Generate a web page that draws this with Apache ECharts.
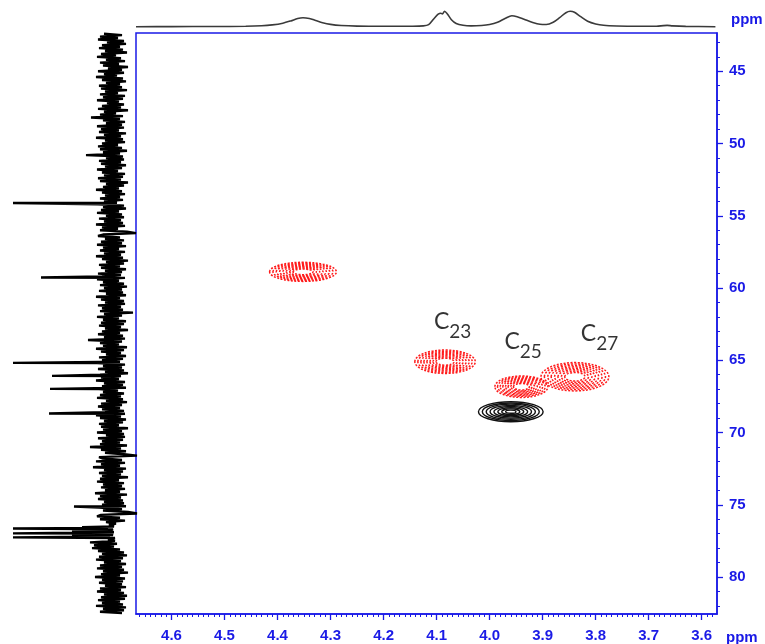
<!DOCTYPE html>
<html><head><meta charset="utf-8">
<script src="https://cdn.jsdelivr.net/npm/echarts@6/dist/echarts.min.js"></script>
<style>html,body{margin:0;padding:0;background:#fff}#c{width:765px;height:644px}</style>
</head><body><div id="c"></div><script>
// ---- axis ranges / tick labels ----
const X_MIN = 3.571, X_MAX = 4.667;   // 1H ppm (reversed)
const Y_MIN = 42.35, Y_MAX = 82.56;   // 13C ppm (reversed)
const X_LABELS = [3.6, 3.7, 3.8, 3.9, 4.0, 4.1, 4.2, 4.3, 4.4, 4.5, 4.6];
const Y_LABELS = [45, 50, 55, 60, 65, 70, 75, 80];

// ---- 1H projection (top trace) ----
const TOP_PPM = [4.667,4.60,4.52,4.46,4.43,4.41,4.39,4.375,4.362,4.352,4.34,4.328,4.315,4.30,4.28,4.25,4.20,4.15,4.125,4.115,4.105,4.097,4.092,4.089,4.085,4.08,4.072,4.063,4.05,4.035,4.015,4.0,3.985,3.97,3.958,3.948,3.935,3.92,3.905,3.893,3.88,3.868,3.856,3.848,3.84,3.828,3.815,3.80,3.785,3.76,3.72,3.685,3.672,3.665,3.655,3.63,3.574];
const TOP_INT = [0,0.1,0.2,0.4,0.9,1.8,3.5,5.8,8.2,9,8.2,6.2,4,2.3,1.2,0.6,0.4,0.5,0.8,2,8,12.5,13.5,12.8,15.4,13,7,3.2,1.4,0.8,1.2,2.2,4.5,8.5,11,10,7.5,4.5,2.4,2.2,4.5,9,14,15.4,14.5,10,5.5,2.8,1.4,0.7,0.4,0.5,1.1,1.3,0.8,0.3,0];

// ---- 13C projection (left trace): noise read every 0.1 ppm from 42.4 ----
const NOISE_START = 42.4, NOISE_STEP = 0.1;
const NOISE = [
8,-10,12,-6,14,-12,5,-14,10,-8,
13,-11,7,-15,11,-4,15,-9,6,-13,
12,-7,9,-16,4,-10,14,-12,8,-5,
16,-11,10,-14,6,-8,13,-10,11,-15,
7,-6,12,-13,9,-11,15,-7,5,-12,
10,-9,14,-16,8,-4,12,-11,21,-8,
9,-13,6,-10,15,-12,11,-7,13,-14,
8,-9,16,-11,7,-13,10,-6,14,-10,
12,-15,9,-8,26,-11,6,-12,13,-9,
11,-14,7,-10,15,-6,10,-13,8,-11,
14,-9,12,-16,6,-12,9,-7,16,-10,
10,-13,7,-8,12,-11,8,-5,14,-12,
9,-14,11,-7,15,-10,6,-12,13,-9,
8,-11,16,-13,10,-6,12,-15,-24,9,
14,-8,7,-12,11,-10,15,-14,9,-7,
12,-13,8,-9,16,-11,10,-16,6,-12,
13,-8,11,-14,7,-10,14,-9,10,-13,
15,-7,9,-12,12,-15,8,-10,13,-11,
6,-14,16,-8,11,-12,7,-13,14,-9,
10,-11,12,-21,8,-10,15,-7,9,-14,
11,-12,13,-9,7,-16,10,-8,14,-11,
8,-13,24,-10,12,-7,9,-15,16,-12,
11,-9,6,-14,13,-11,10,-8,15,-13,
9,-10,14,-12,7,-16,12,-9,11,-7,
16,-13,8,-11,10,-14,13,-6,9,-12,
12,-9,15,-11,6,-15,11,-10,14,-8,
10,-12,7,-13,16,-9,12,-14,8,-11,
13,-7,11,-16,9,-10,15,-12,6,-13,
14,-11,10,-8,12,-15,22,-9,11,-14,
7,-12,-25,13,9,-10,16,-13,11,-8,
19,-14,8,-11,13,-9,10,-16,12,-7,
15,-12,9,-10,11,-13,7,-8,17,-15,
12,-9,14,-11,8,-12,10,-14,13,-10,
9,-16,-25,11,15,-8,12,-13,6,-4,
3,-2,4,-1,2,-2,3,-1,2,-3,
4,-3,22,-5,18,-2,20,-8,14,-12,
10,-15,13,-11,16,-9,8,-14,12,-10,
15,-12,9,-16,11,-8,17,-13,10,-11,
13,-10,7,-14,12,-9,15,-12,8,-15,
11,-13,14,-8,10,-11,16,-14,9,-12,
12,-10];
const SPIKE_PPM = [54.12, 59.27, 65.18, 66.08, 66.98, 68.68, 75.12, 76.55, 76.64, 76.81, 76.98, 77.12, 77.26];
const SPIKE_INT = [99, 71, 99, 60, 62, 63, 38, 30, 99, 40, 99, 40, 99];

// ---- HSQC cross peaks (1H ppm, 13C ppm, half widths) ----
const RED_H  = [4.352, 4.084, 3.940, 3.839];
const RED_C  = [58.88, 65.10, 66.83, 66.14];
const RED_WH = [0.063, 0.057, 0.050, 0.064];
const RED_WC = [0.66, 0.81, 0.74, 0.98];
const BLK_H  = [3.960];
const BLK_C  = [68.56];
const BLK_WH = [0.061];
const BLK_WC = [0.69];

// ---- peak labels ----
const LABEL_SUB = ['23', '25', '27'];
const LABEL_H   = [4.104, 3.971, 3.827];
const LABEL_C   = [61.59, 62.97, 62.38];

const BLUE = '#1a1ae6';
const FONT = 'Liberation Sans';

// build traces from arrays
const leftTrace = NOISE.map((v, i) => [v, +(NOISE_START + i * NOISE_STEP).toFixed(2)]);
SPIKE_PPM.forEach((p, i) => leftTrace.push([SPIKE_INT[i], p]));
leftTrace.sort((a, b) => a[1] - b[1]);
const topTrace = TOP_PPM.map((p, i) => [p, TOP_INT[i]]);

const xMinor = [], yMinor = [];
for (let k = 358; k <= 466; k++) xMinor.push(k / 100);
for (let k = 43; k <= 82; k++) yMinor.push(k);

function contour(h, c, wh, wc, color, dash, levels, width) {
  return {
    type: 'custom', xAxisIndex: 0, yAxisIndex: 0, silent: true, clip: true,
    data: h.map((x, i) => [x, c[i], wh[i], wc[i]]),
    renderItem(params, api) {
      const ctr = api.coord([api.value(0), api.value(1)]);
      const sz = api.size([api.value(2), api.value(3)], [api.value(0), api.value(1)]);
      const rx = Math.abs(sz[0]), ry = Math.abs(sz[1]);
      return {
        type: 'group',
        children: levels.map(f => ({
          type: 'ellipse',
          shape: { cx: ctr[0], cy: ctr[1], rx: rx * f, ry: ry * f },
          style: { fill: null, stroke: color, lineWidth: width, lineDash: dash }
        }))
      };
    }
  };
}

const chart = echarts.init(document.getElementById('c'), null, { renderer: 'canvas' });
chart.setOption({
  animation: false,
  backgroundColor: '#fff',
  grid: [
    { left: 136, top: 33, width: 581, height: 581, show: true, borderColor: BLUE, borderWidth: 1.5, backgroundColor: 'transparent', outerBoundsMode: 'none', containLabel: false },
    { left: 0, top: 33, width: 136, height: 581, outerBoundsMode: 'none', containLabel: false },
    { left: 136, top: 0, width: 581, height: 33, outerBoundsMode: 'none', containLabel: false }
  ],
  xAxis: [
    { gridIndex: 0, type: 'value', min: X_MIN, max: X_MAX, inverse: true, position: 'bottom',
      axisLine: { show: true, lineStyle: { color: BLUE, width: 1.5 } },
      axisTick: { show: true, inside: false, length: 6, lineStyle: { color: BLUE, width: 1.3 }, customValues: X_LABELS },
      axisLabel: { show: true, customValues: X_LABELS, margin: 14, color: BLUE, fontSize: 15, fontWeight: 'bold', fontFamily: FONT, formatter: v => v.toFixed(1) },
      splitLine: { show: false },
      name: 'ppm', nameLocation: 'start', nameGap: 9,
      nameTextStyle: { color: BLUE, fontSize: 15, fontWeight: 'bold', fontFamily: FONT, align: 'left', verticalAlign: 'top', padding: [16, 0, 0, 0] } },
    { gridIndex: 0, type: 'value', min: X_MIN, max: X_MAX, inverse: true, position: 'bottom',
      axisLine: { show: false }, axisLabel: { show: false }, splitLine: { show: false },
      axisTick: { show: true, inside: false, length: 3, lineStyle: { color: BLUE, width: 1 }, customValues: xMinor } },
    { gridIndex: 1, type: 'value', min: -24, max: 112, inverse: true, show: false },
    { gridIndex: 2, type: 'value', min: X_MIN, max: X_MAX, inverse: true, show: false }
  ],
  yAxis: [
    { gridIndex: 0, type: 'value', min: Y_MIN, max: Y_MAX, inverse: true, position: 'right',
      axisLine: { show: true, lineStyle: { color: BLUE, width: 1.5 } },
      axisTick: { show: true, inside: false, length: 6, lineStyle: { color: BLUE, width: 1.3 }, customValues: Y_LABELS },
      axisLabel: { show: true, customValues: Y_LABELS, margin: 12, color: BLUE, fontSize: 15, fontWeight: 'bold', fontFamily: FONT },
      splitLine: { show: false },
      name: 'ppm', nameLocation: 'start', nameGap: 6,
      nameTextStyle: { color: BLUE, fontSize: 15, fontWeight: 'bold', fontFamily: FONT, align: 'left', verticalAlign: 'bottom', padding: [0, 0, 0, 14] } },
    { gridIndex: 0, type: 'value', min: Y_MIN, max: Y_MAX, inverse: true, position: 'right',
      axisLine: { show: false }, axisLabel: { show: false }, splitLine: { show: false },
      axisTick: { show: true, inside: false, length: 3, lineStyle: { color: BLUE, width: 1 }, customValues: yMinor } },
    { gridIndex: 1, type: 'value', min: Y_MIN, max: Y_MAX, inverse: true, show: false },
    { gridIndex: 2, type: 'value', min: -6.3, max: 26.7, show: false }
  ],
  series: [
    { type: 'line', xAxisIndex: 2, yAxisIndex: 2, data: leftTrace, showSymbol: false, symbol: 'none',
      sampling: null, silent: true, lineStyle: { color: '#000', width: 2.4 } },
    { type: 'line', xAxisIndex: 3, yAxisIndex: 3, data: topTrace, showSymbol: false, symbol: 'none',
      smooth: 0.3, silent: true, lineStyle: { color: '#3a3a3a', width: 1.6 } },
    contour(RED_H, RED_C, RED_WH, RED_WC, '#ff1a1a', [2, 1.5], [1, 0.9, 0.8, 0.7, 0.6, 0.5, 0.4, 0.3], 1.5),
    contour(BLK_H, BLK_C, BLK_WH, BLK_WC, '#111', null, [1, 0.88, 0.76, 0.64, 0.52, 0.40, 0.28, 0.16], 1.4),
    { type: 'scatter', xAxisIndex: 0, yAxisIndex: 0, silent: true, symbolSize: 1,
      itemStyle: { color: 'rgba(0,0,0,0)' },
      data: LABEL_H.map((x, i) => [x, LABEL_C[i]]),
      label: { show: true, position: [0, 0], align: 'left', verticalAlign: 'top',
        formatter: p => '{c|C}{s|' + LABEL_SUB[p.dataIndex] + '}',
        rich: {
          c: { fontSize: 23, lineHeight: 23, verticalAlign: 'top', color: '#000', fontFamily: 'Lato' },
          s: { fontSize: 19, lineHeight: 31, verticalAlign: 'bottom', color: '#000', fontFamily: 'Lato' }
        } } }
  ]
});
</script></body></html>
